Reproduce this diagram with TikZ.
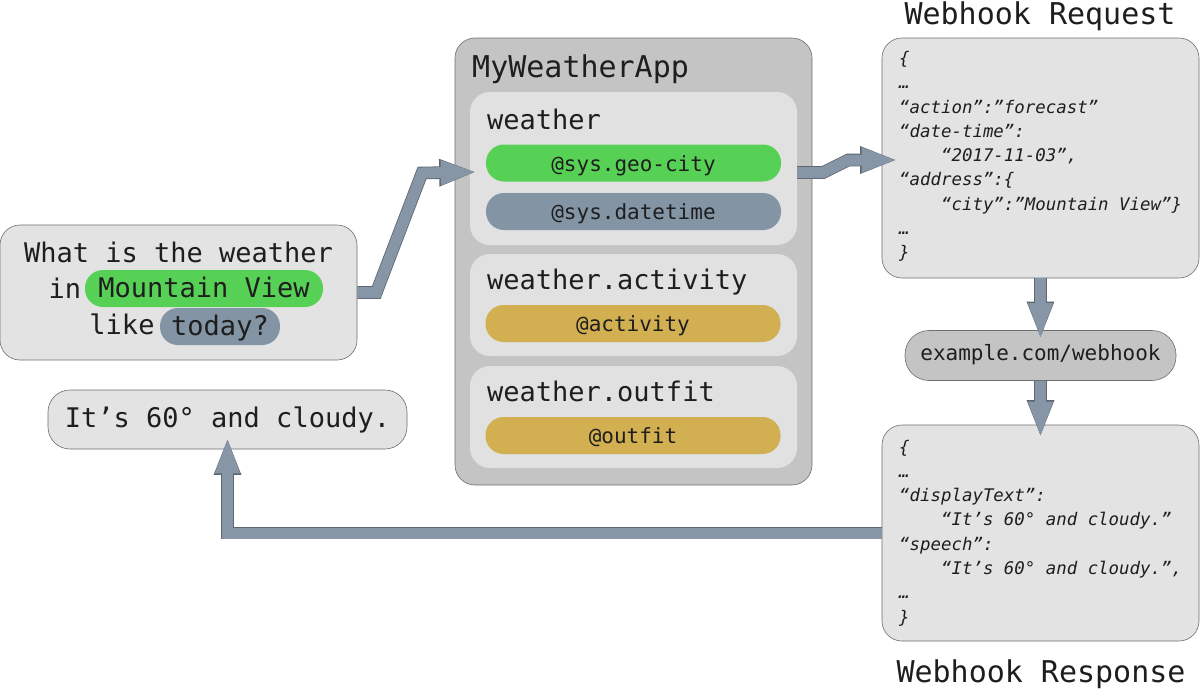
\documentclass[tikz,border=0pt]{standalone}
\usepackage{fontspec}
\setmainfont{DejaVu Sans Mono}[ItalicFont={DejaVu Sans Mono Oblique}, BoldFont={DejaVu Sans Mono Bold}, BoldItalicFont={DejaVu Sans Mono Bold Oblique}]
\usetikzlibrary{arrows.meta}
\definecolor{boxc}{HTML}{E3E3E3}
\definecolor{intc}{HTML}{E1E1E1}
\definecolor{appc}{HTML}{C4C4C4}
\definecolor{greenc}{HTML}{57D155}
\definecolor{slatec}{HTML}{8394A4}
\definecolor{goldc}{HTML}{D2AF50}
\definecolor{arrowc}{HTML}{8796A6}
\definecolor{arrowd}{HTML}{5E6670}
\definecolor{edgec}{HTML}{6E6E6E}
\definecolor{inkc}{HTML}{1E1E1E}
\newcommand\fBigSz{\fontsize{27}{36}\selectfont}
\newcommand\fTitleSz{\fontsize{30}{36}\selectfont}
\newcommand\fPillSz{\fontsize{21}{26}\selectfont}
\newcommand\fJsonSz{\fontsize{17.4}{24.3}\selectfont\itshape}
\newcommand\jsp{\spaceskip=10.475pt\relax\xspaceskip=10.475pt\relax}
\begin{document}
\begin{tikzpicture}[x=1pt,y=-1pt,
  every node/.style={text=inkc},
  box/.style={draw=edgec, line width=0.6pt, fill=boxc, rounded corners=20pt, inner sep=0pt},
  ibox/.style={fill=intc, rounded corners=20pt, inner sep=0pt, minimum width=327pt},
  qpill/.style={rounded corners=18pt, minimum height=37pt, inner sep=0pt, font=\fBigSz, text height=19pt, text depth=2pt},
  apill/.style={rounded corners=18pt, minimum width=295pt, minimum height=37pt, inner sep=0pt, font=\fPillSz, text height=17pt, text depth=1pt},
  bigtext/.style={font=\fBigSz, inner sep=0pt},
  titletext/.style={font=\fTitleSz, inner sep=0pt},
  json/.style={font=\fJsonSz, inner sep=0pt, text width=300pt, align=flush left},
  fat/.style={draw=arrowc, line width=11pt, line join=miter, -{Triangle[length=36pt,width=22pt]},
    preaction={draw=arrowd, line width=12.6pt, -{Triangle[length=37.6pt,width=24.5pt]}}}
]
\fill[white] (0,0) rectangle (1200,689);
\useasboundingbox (0,0) rectangle (1200,689);

% question
\node[box, minimum width=357pt, minimum height=135pt] (q) at (178.5,292.5) {};
\node[qpill, fill=greenc, minimum width=238pt] (mv) at (204,288.5) {Mountain View};
\node[qpill, fill=slatec, minimum width=120pt] (td) at (220,326.5) {today?};
\node[bigtext, anchor=base] (q1) at (178.5,262) {What is the weather};
\node[bigtext, anchor=base] (q2) at (65,298) {in};
\node[bigtext, anchor=base] (q3) at (122,334) {like};

% answer
\node[box, rounded corners=22pt, minimum width=359pt, minimum height=59pt, font=\fBigSz, text height=19pt, text depth=4pt] (ans) at (227.5,419.5) {It’s 60° and cloudy.};

% app
\node[box, fill=appc, minimum width=357pt, minimum height=447pt] (app) at (633.5,261.5) {};
\node[titletext, anchor=base west] (apptitle) at (472,77) {MyWeatherApp};
\node[ibox, minimum height=153pt] (wbox) at (633.5,168.5) {};
\node[ibox, minimum height=102pt] (abox) at (633.5,305) {};
\node[ibox, minimum height=102pt] (obox) at (633.5,417) {};
\node[bigtext, anchor=base west] (wl) at (487,129) {weather};
\node[bigtext, anchor=base west] (al) at (487,289) {weather.activity};
\node[bigtext, anchor=base west] (ol) at (487,401) {weather.outfit};
\node[apill, fill=greenc] (geo) at (633.5,163) {@sys.geo-city};
\node[apill, fill=slatec] (dt) at (633.5,211.5) {@sys.datetime};
\node[apill, fill=goldc] (act) at (633,323.5) {@activity};
\node[apill, fill=goldc] (out) at (633,435.5) {@outfit};

% webhook request
\node[titletext, anchor=base] (reqtitle) at (1040,24) {Webhook Request};
\node[box, minimum width=317pt, minimum height=240pt] (req) at (1040.5,158) {};
\node[json, anchor=base west] (reqtxt) at (899,64.4) {\jsp\{\\
…\\
“action”:”forecast”\\
“date-time”:\\
\hphantom{0000}“2017-11-03”,\\
“address”:\{\\
\hphantom{0000}“city”:”Mountain View”\}\\
…\\
\}};

% endpoint
\node[box, fill=appc, rounded corners=24pt, minimum width=271pt, minimum height=50pt, font=\fPillSz, text height=12pt, text depth=3pt] (ex) at (1040.5,355.5) {example.com/webhook};

% webhook response
\node[box, minimum width=317pt, minimum height=216pt] (resp) at (1040.5,533) {};
\node[json, anchor=base west] (resptxt) at (899,453) {\jsp\{\\
…\\
“displayText”:\\
\hphantom{0000}“It’s 60° and cloudy.”\\
“speech”:\\
\hphantom{0000}“It’s 60° and cloudy.”,\\
…\\
\}};
\node[titletext, anchor=base] (resptitle) at (1041,682) {Webhook Response};

% connectors
\draw[fat] (q.east) -- ++(19,0) -- (422,173) -- ([xshift=7pt,yshift=-3.5pt]wbox.west);
\draw[fat] ([yshift=-4pt]wbox.east) -- ++(26,0) -- ++(25,-12.5) -- ([xshift=16pt,yshift=-2pt]req.west);
\draw[fat] (req.south) -- ([yshift=-9pt]ex.north);
\draw[fat] (ex.south) -- ([yshift=-13pt]resp.north);
\draw[fat] (resp.west) -| ([yshift=12pt]ans.south);
\end{tikzpicture}
\end{document}
